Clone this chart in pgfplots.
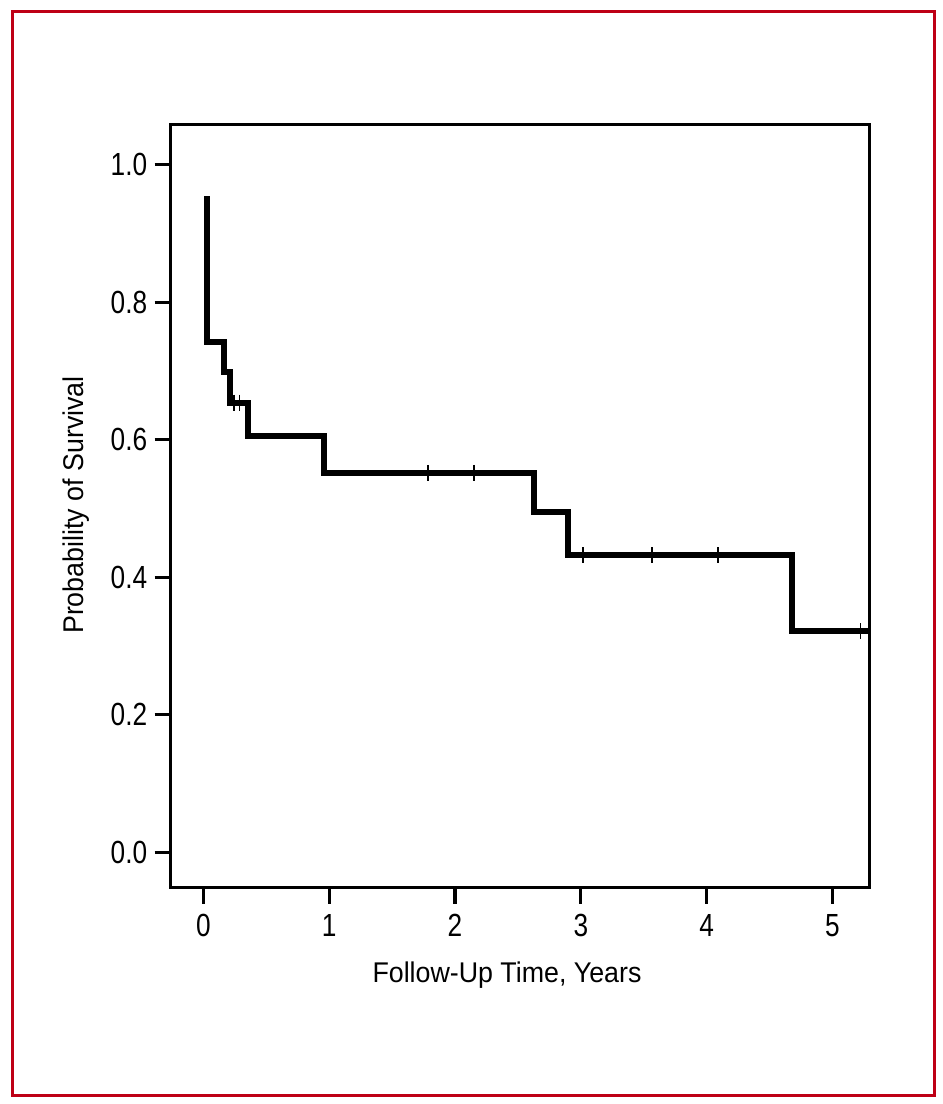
\documentclass[border=0pt]{standalone}
\usepackage{pgfplots}
\pgfplotsset{compat=1.18}
\usepackage{fontspec}
\setmainfont{Liberation Sans}
\newfontfamily\tickfam[FakeStretch=0.82]{Liberation Sans}
\newfontfamily\labfam[FakeStretch=0.94]{Liberation Sans}
\definecolor{framered}{RGB}{190,0,22}
\begin{document}
\begin{tikzpicture}[x=1pt,y=1pt]
\useasboundingbox (0,0) rectangle (943,1104);
\draw[framered, line width=3pt] (12.5,8.5) rectangle (934.5,1092.5);
\begin{axis}[
 at={(170.7pt,216.4pt)}, anchor=south west, scale only axis,
 width=698.6pt, height=763.3pt,
 xmin=-0.261, xmax=5.294, ymin=-0.0513, ymax=1.0588,
 axis line style={line width=3.3pt, black},
 tick align=outside, xtick pos=bottom, ytick pos=left,
 major tick length=16pt, tick style={line width=3.3pt, black},
 xtick={0,1,2,3,4,5}, ytick={0,0.2,0.4,0.6,0.8,1.0},
 ticklabel style={font=\tickfam\fontsize{32}{38}\selectfont},
 /pgf/number format/assume math mode=true,
 xticklabel style={yshift=-7pt},
 yticklabel style={xshift=-4pt,/pgf/number format/.cd,fixed,fixed zerofill,precision=1},
 clip=true,
]
\addplot[const plot, black, line width=6pt, line join=miter, line cap=butt] coordinates {
 (0.030,0.9545) (0.030,0.7417) (0.163,0.698) (0.211,0.654) (0.356,0.6054)
 (0.958,0.552) (2.630,0.4945) (2.901,0.432) (4.682,0.3214) (5.40,0.3214)
};
\addplot[only marks, mark=|, mark size=8pt, black, mark options={line width=1.7pt}] coordinates {
 (0.245,0.654) (0.285,0.654) (1.785,0.552) (2.151,0.552)
 (3.018,0.432) (3.566,0.432) (4.089,0.432) (5.223,0.3214)
};
\end{axis}
\node[anchor=base, rotate=90, font=\labfam\fontsize{28.5}{34}\selectfont] at (83.3,599) {Probability of Survival};
\node[anchor=base, font=\labfam\fontsize{28.5}{34}\selectfont] at (507,121.7) {Follow-Up Time, Years};
\end{tikzpicture}
\end{document}
